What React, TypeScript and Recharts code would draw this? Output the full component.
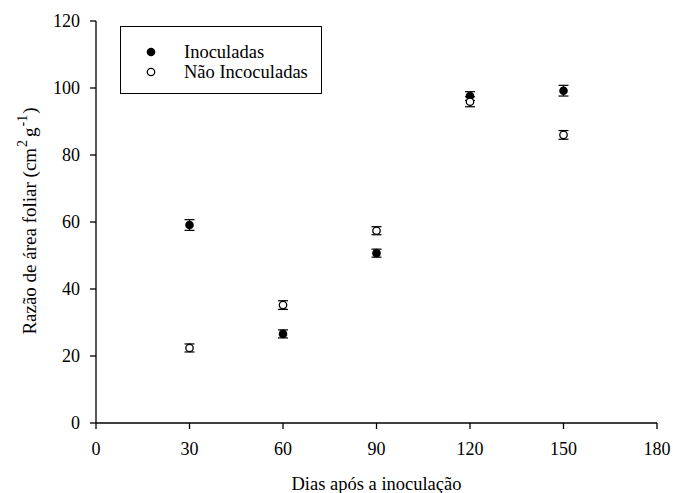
import { ScatterChart, Scatter, XAxis, YAxis, ErrorBar } from 'recharts'

// days after inoculation
const days = [30, 60, 90, 120, 150]

// leaf area ratio (cm2 g-1), mean and error
const inoculadas = [59.1, 26.6, 50.7, 97.6, 99.2]
const inoculadasErr = [1.6, 1.2, 1.2, 1.3, 1.6]
const naoInoculadas = [22.4, 35.2, 57.4, 95.9, 86.0]
const naoInoculadasErr = [1.2, 1.3, 1.2, 1.5, 1.3]

const xTicks = [0, 30, 60, 90, 120, 150, 180]
const yTicks = [0, 20, 40, 60, 80, 100, 120]

const FONT = 'Liberation Serif, DejaVu Serif'

const inocData = days.map((d, i) => ({ dia: d, valor: inoculadas[i], err: inoculadasErr[i] }))
const naoData = days.map((d, i) => ({ dia: d, valor: naoInoculadas[i], err: naoInoculadasErr[i] }))

function Filled(props: { cx?: number; cy?: number }) {
  return <circle cx={props.cx} cy={props.cy} r={4.3} fill="#000" />
}

function Open(props: { cx?: number; cy?: number }) {
  return <circle cx={props.cx} cy={props.cy} r={3.7} fill="#fff" stroke="#000" strokeWidth={1.3} />
}

function YLabel() {
  return (
    <text
      transform="translate(36, 221) rotate(-90)"
      textAnchor="middle"
      fontFamily={FONT}
      fontSize={19}
      fill="#000"
    >
      Razão de área foliar (cm
      <tspan dx={1} dy={-9} fontSize={14}>2</tspan>
      <tspan dx={3} dy={9}>g</tspan>
      <tspan dx={1} dy={-9} fontSize={14}>-1</tspan>
      <tspan dx={1} dy={9}>)</tspan>
    </text>
  )
}

export default function App() {
  const tick = { fontSize: 18, fill: '#000', fontFamily: FONT }
  return (
    <div style={{ position: 'relative', width: 673, height: 493, background: '#fff', fontFamily: FONT }}>
      <style>{'body{margin:0}'}</style>
      <ScatterChart width={673} height={493} margin={{ top: 21, right: 16, bottom: 0, left: 0 }}>
        <XAxis
          type="number"
          dataKey="dia"
          domain={[0, 180]}
          ticks={xTicks}
          tick={tick}
          tickSize={6}
          tickMargin={13}
          height={70}
          stroke="#000"
          axisLine={{ stroke: '#000', strokeWidth: 1.3 }}
          tickLine={{ stroke: '#000', strokeWidth: 1.3 }}
          interval={0}
          label={{ value: 'Dias após a inoculação', position: 'insideBottom', offset: 3, fontSize: 18.5, fill: '#000', fontFamily: FONT }}
        />
        <YAxis
          type="number"
          dataKey="valor"
          domain={[0, 120]}
          ticks={yTicks}
          tick={tick}
          tickSize={6}
          tickMargin={10}
          width={96}
          stroke="#000"
          axisLine={{ stroke: '#000', strokeWidth: 1.3 }}
          tickLine={{ stroke: '#000', strokeWidth: 1.3 }}
          interval={0}
          label={<YLabel />}
        />
        <Scatter data={inocData} shape={<Filled />} isAnimationActive={false}>
          <ErrorBar dataKey="err" direction="y" width={5} stroke="#000" strokeWidth={1.2} />
        </Scatter>
        <Scatter data={naoData} shape={<Open />} isAnimationActive={false}>
          <ErrorBar dataKey="err" direction="y" width={5} stroke="#000" strokeWidth={1.2} />
        </Scatter>
      </ScatterChart>

      <div
        style={{
          position: 'absolute',
          left: 120,
          top: 26,
          width: 202,
          height: 68,
          boxSizing: 'border-box',
          border: '1.3px solid #000',
          background: '#fff',
          fontFamily: FONT,
          fontSize: 18.5,
          color: '#000',
        }}
      >
        <div style={{ position: 'absolute', left: 24, top: 15, display: 'flex', alignItems: 'center', lineHeight: '20px' }}>
          <svg width={12} height={12} style={{ marginRight: 27 }}>
            <circle cx={6} cy={6} r={4.3} fill="#000" />
          </svg>
          <span>Inoculadas</span>
        </div>
        <div style={{ position: 'absolute', left: 24, top: 35, display: 'flex', alignItems: 'center', lineHeight: '20px' }}>
          <svg width={12} height={12} style={{ marginRight: 27 }}>
            <circle cx={6} cy={6} r={3.7} fill="#fff" stroke="#000" strokeWidth={1.3} />
          </svg>
          <span>Não Incoculadas</span>
        </div>
      </div>
    </div>
  )
}
